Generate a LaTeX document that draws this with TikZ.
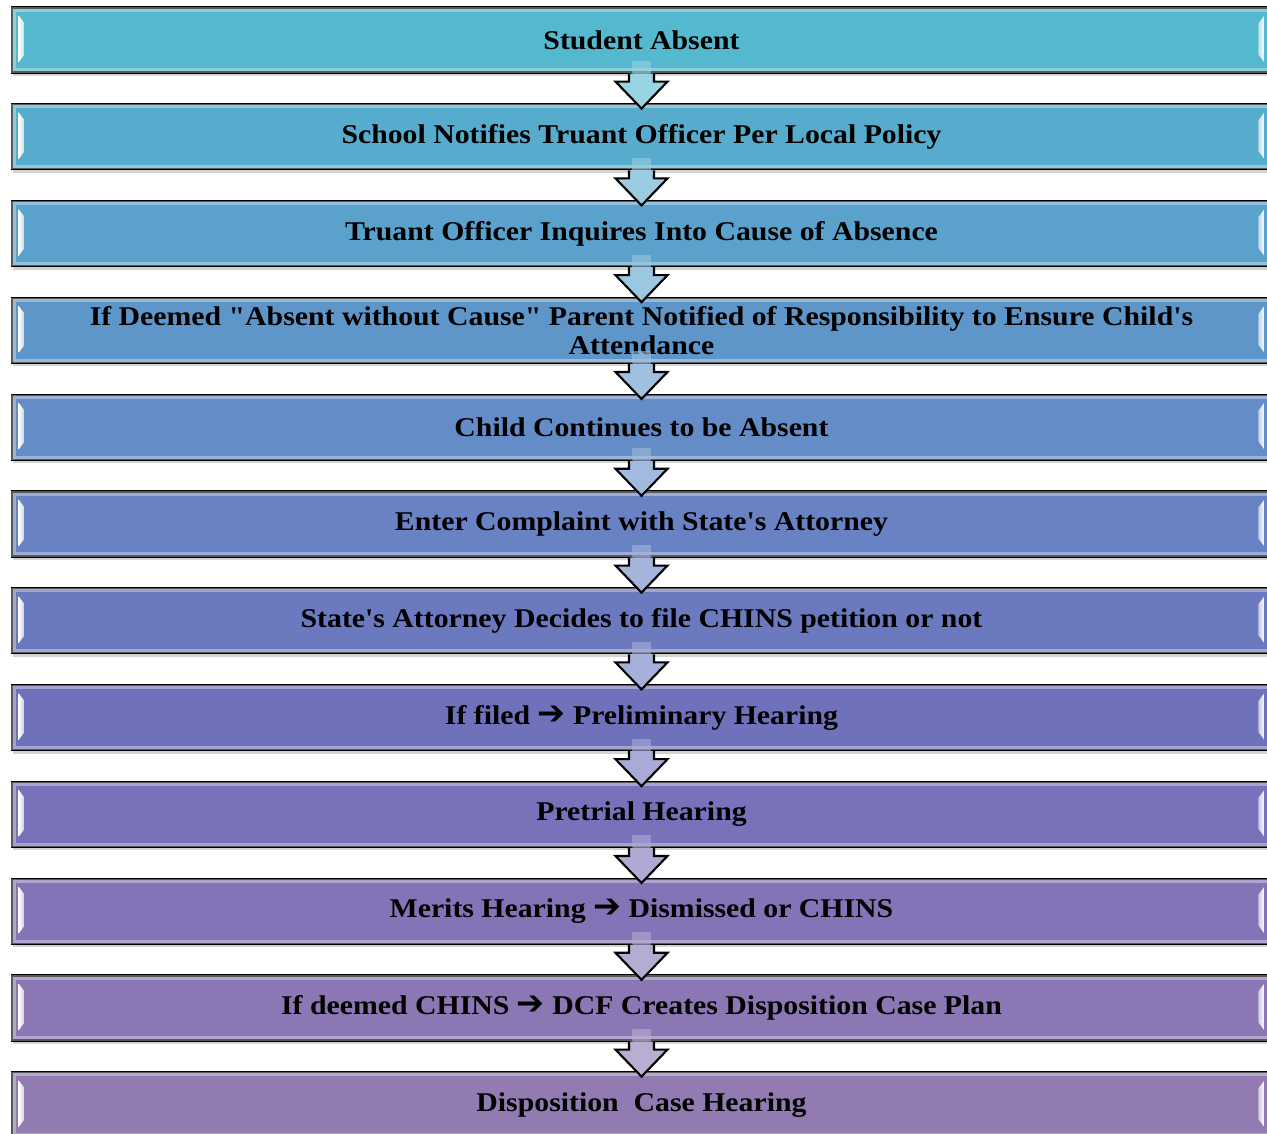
\documentclass[tikz,border=0pt]{standalone}
\usepackage{fontspec}
\defaultfontfeatures[\rmfamily]{}
\setmainfont{Liberation Serif}[FakeStretch=1.1]
\newfontfamily\arrowfont{DejaVu Sans}
\usetikzlibrary{shadows}
\definecolor{bc1}{RGB}{84,184,206}
\definecolor{bc2}{RGB}{87,172,205}
\definecolor{bc3}{RGB}{90,161,204}
\definecolor{bc4}{RGB}{95,150,201}
\definecolor{bc5}{RGB}{100,140,198}
\definecolor{bc6}{RGB}{104,130,195}
\definecolor{bc7}{RGB}{107,121,191}
\definecolor{bc8}{RGB}{111,114,187}
\definecolor{bc9}{RGB}{121,113,185}
\definecolor{bc10}{RGB}{131,116,183}
\definecolor{bc11}{RGB}{138,119,180}
\definecolor{bc12}{RGB}{145,123,176}
\newcommand\rarr{{\arrowfont\fontsize{9.5}{9.5}\selectfont ➔}}
\begin{document}
\begin{tikzpicture}[x=0.01cm, y=-0.01cm, font=\bfseries\fontsize{7.7}{8.25}\selectfont,
	stepbox/.style={draw=black, line width=0.6pt, minimum width=12.59cm, minimum height=0.65cm,
		inner sep=0pt, align=center, drop shadow={shadow xshift=0.3pt, shadow yshift=-1pt, opacity=0.35}}]
	\useasboundingbox (0,0) rectangle (1267,1133);
	% the twelve steps
	\foreach \i/\t in {1/Student Absent,
		2/School Notifies Truant Officer Per Local Policy,
		3/Truant Officer Inquires Into Cause of Absence,
		4/If Deemed "Absent without Cause" Parent Notified of Responsibility to Ensure Child's\\Attendance,
		5/Child Continues to be Absent,
		6/Enter Complaint with State's Attorney,
		7/State's Attorney Decides to file CHINS petition or not,
		8/If filed \rarr{} Preliminary Hearing,
		9/Pretrial Hearing,
		10/Merits Hearing \rarr{} Dismissed or CHINS,
		11/If deemed CHINS \rarr{} DCF Creates Disposition Case Plan,
		12/Disposition~ Case Hearing}{
		\node[stepbox, fill=bc\i] (b\i) at (641.5,{40+96.8*(\i-1)}) {\t};
		\draw[white, opacity=0.35, line width=1.2pt] ([shift={(3,-3)}]b\i.south west) rectangle ([shift={(-3,3)}]b\i.north east);
		\begin{scope}[shift={(b\i.north west)}]
			\shade[left color=white, right color=bc\i!40!white] (8,9)--(14,17)--(14,48)--(8,56)--cycle;
		\end{scope}
		\begin{scope}[shift={(b\i.north east)}]
			\shade[right color=white, left color=bc\i!40!white] (-8,9)--(-14,17)--(-14,48)--(-8,56)--cycle;
		\end{scope}
	}
	% arrows between the steps
	\foreach \i in {1,...,11}{
		\begin{scope}[shift={(b\i.south)}]
			\shade[left color=bc\i!60!white, middle color=white, right color=bc\i!60!white, opacity=0.6]
				(-9,-12)--(-9,0)--(9,0)--(9,-12)--cycle;
			\shade[left color=bc\i!60!white, middle color=white, right color=bc\i!60!white]
				(-12.5,0)--(-12.5,8)--(-26,8)--(0,35)--(26,8)--(12.5,8)--(12.5,0)--cycle;
			\draw[line width=0.6pt, line join=miter] (-12.5,0)--(-12.5,8)--(-26,8)--(0,35)--(26,8)--(12.5,8)--(12.5,0);
		\end{scope}
	}
\end{tikzpicture}
\end{document}
